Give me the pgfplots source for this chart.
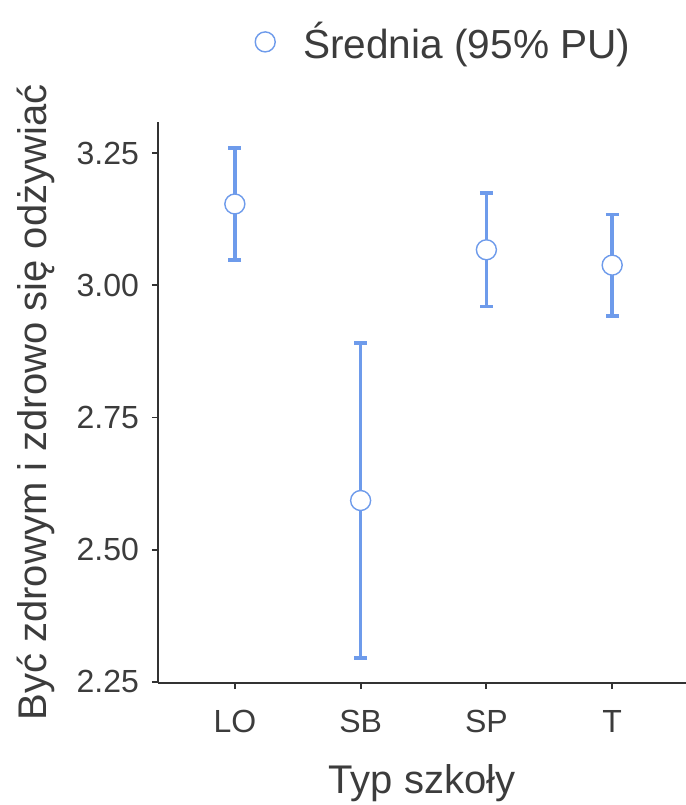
\documentclass[border=0pt]{standalone}
\usepackage{pgfplots}
\pgfplotsset{compat=1.18}
\usepackage{fontspec}
\setmainfont{Liberation Sans}
\definecolor{cblue}{RGB}{110,155,235}
\definecolor{txt}{RGB}{60,60,60}
\definecolor{axc}{RGB}{50,50,50}
\begin{document}
\begin{tikzpicture}
\path[use as bounding box] (-79pt,-61pt) rectangle (264pt,341.5pt);
\begin{axis}[
  at={(0,0)}, anchor=origin,
  scale only axis, width=264pt, height=280.5pt,
  xmin=0.389, xmax=4.587, ymin=2.248, ymax=3.3086,
  axis x line*=bottom, axis y line*=left,
  axis line style={axc, line width=0.9pt, -},
  xtick={1,2,3,4}, xticklabels={LO,SB,SP,T},
  ytick={2.25,2.5,2.75,3,3.25},
  yticklabel style={/pgf/number format/fixed, /pgf/number format/fixed zerofill, /pgf/number format/precision=2},
  /pgf/number format/assume math mode=true,
  tick style={axc, line width=0.9pt},
  tick align=outside, major tick length=3pt,
  ticklabel style={font=\fontsize{16}{18}\selectfont, text=txt},
  xticklabel style={yshift=-7pt},
  yticklabel style={xshift=-3pt},
  xlabel={Typ szkoły}, ylabel={Być zdrowym i zdrowo się odżywiać},
  label style={font=\fontsize{20}{22}\selectfont, text=txt},
  xlabel style={yshift=-9pt},
  ylabel style={yshift=4pt},
  legend style={draw=none, fill=none, at={(0.172,1.0)}, anchor=south west, yshift=26pt, font=\fontsize{20.3}{22}\selectfont, text=txt, legend cell align=left},
  clip=false,
]
\addplot[cblue, line width=1.8pt, only marks, mark=none, forget plot,
  error bars/.cd, y dir=both, y explicit,
  error bar style={cblue, line width=1.8pt},
  error mark options={cblue, line width=1.8pt, rotate=90, mark size=3.2pt}]
  coordinates {
  (1,3.1536) +- (0,0.106)
  (2,2.593) +- (0,0.298)
  (3,3.067) +- (0,0.107)
  (4,3.038) +- (0,0.096)
  };
\addplot[cblue, only marks, mark=*, mark size=5pt, mark options={fill=white, draw=cblue, line width=0.7pt}]
  coordinates {(1,3.1536) (2,2.593) (3,3.067) (4,3.038)};
\addlegendentry{\hspace{12pt}Średnia (95\% PU)}
\end{axis}
\end{tikzpicture}
\end{document}
